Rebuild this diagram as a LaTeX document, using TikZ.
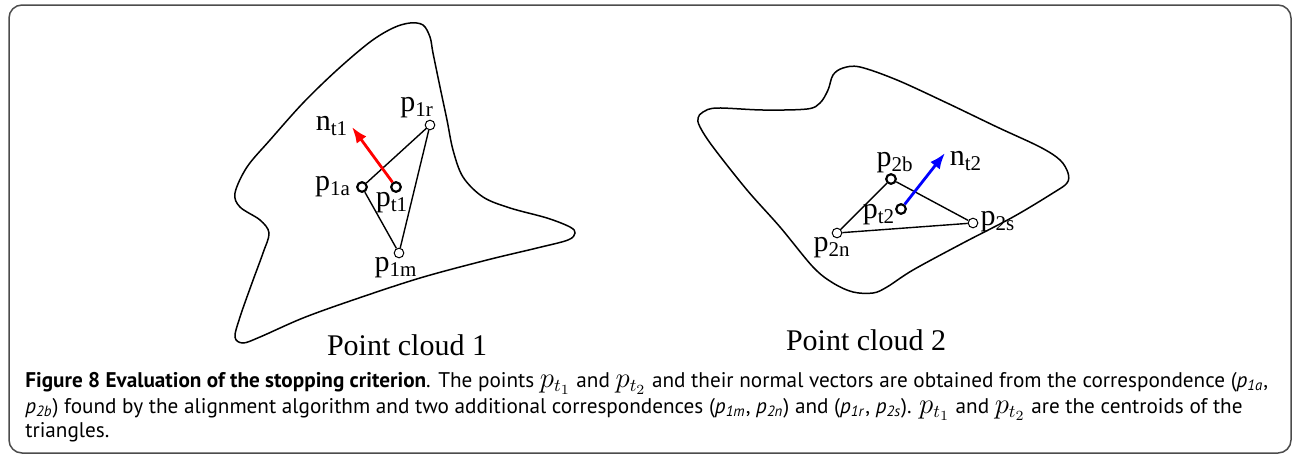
\documentclass[tikz,border=0pt]{standalone}
\usepackage{fontspec}
\setmainfont{Liberation Serif}
\newfontfamily\capfont{PT Sans}
\usetikzlibrary{arrows.meta}

\newcommand{\pcap}[1]{\textit{p}\textsubscript{\textit{#1}}}
\newcommand{\pmat}[1]{{\fontsize{13.5}{13.5}\selectfont$\smash{p_{t_{#1}}}$}}

\tikzset{
    nuvola/.style={line width=0.75pt},
    lato/.style={line width=0.7pt},
    punto/.style={circle, draw, fill=white, inner sep=0pt, minimum size=4.8pt, line width=0.5pt},
    puntob/.style={punto, line width=1.1pt},
    etic/.style={font=\fontsize{15}{15}\selectfont, inner sep=0pt},
    normale/.style={-{Latex[length=8pt,width=6pt]}, line width=1.4pt},
    didasc/.style={font=\capfont\fontsize{10.6}{12}\selectfont, anchor=base west, inner sep=0pt},
}

\begin{document}
\begin{tikzpicture}[x=0.5pt, y=-0.5pt]
    \useasboundingbox (0,0) rectangle (1293,456);

    % Cornice
    \draw[rounded corners=6.5pt, line width=0.75pt, black!70] (9,5) rectangle (1291,453);

    % Nuvola 1
    \draw[nuvola] plot[smooth cycle, tension=0.55] coordinates {
        (235,193) (247,167) (270,140) (303,103) (337,70) (370,42) (393,28)
        (410,23) (423,25) (430,37) (433,53) (440,87) (447,120) (453,150)
        (463,177) (483,197) (510,208) (547,218) (570,227) (575,233) (568,240)
        (537,248) (487,260) (420,278) (353,300) (303,318) (260,337) (243,343)
        (235,337) (240,317) (252,283) (263,253) (269,233) (260,220) (240,207)};

    % Nuvola 2
    \draw[nuvola] plot[smooth cycle, tension=0.55] coordinates {
        (698,118) (703,112) (717,108) (763,110) (807,109) (820,103) (828,90)
        (833,75) (843,68) (860,67) (897,80) (947,103) (997,127) (1040,147)
        (1060,160) (1068,173) (1067,183) (1053,193) (1013,217) (963,243)
        (913,270) (887,287) (873,293) (853,292) (833,283) (813,267) (780,227)
        (747,190) (713,147) (700,127)};

    % Triangolo 1
    \node[punto]  (p1r) at (430,125) {};
    \node[puntob] (p1a) at (362,187) {};
    \node[punto]  (p1m) at (399,253) {};
    \node[puntob] (pt1) at (396,187) {};
    \draw[lato] (p1a) -- (p1r) -- (p1m) -- (p1a);
    \coordinate (nt1) at (352,127);
    \draw[normale, red] (pt1) -- (nt1);

    \node[etic] (l1r) at (417,108) {p\textsubscript{1r}};
    \node[etic] (ln1) at (332,126) {n\textsubscript{t1}};
    \node[etic] (l1a) at (333,187) {p\textsubscript{1a}};
    \node[etic] (lt1) at (392,203) {p\textsubscript{t1}};
    \node[etic] (l1m) at (396,268) {p\textsubscript{1m}};

    % Triangolo 2
    \node[puntob] (p2b) at (891,179) {};
    \node[punto]  (p2n) at (837,233) {};
    \node[punto]  (p2s) at (973,223) {};
    \node[puntob] (pt2) at (901,209) {};
    \draw[lato] (p2n) -- (p2b) -- (p2s) -- (p2n);
    \coordinate (nt2) at (945,153);
    \draw[normale, blue] (pt2) -- (nt2);

    \node[etic] (l2b) at (895,163) {p\textsubscript{2b}};
    \node[etic] (ln2) at (966,161) {n\textsubscript{t2}};
    \node[etic] (lt2) at (879,215) {p\textsubscript{t2}};
    \node[etic] (l2s) at (998,222) {p\textsubscript{2s}};
    \node[etic] (l2n) at (832,248) {p\textsubscript{2n}};

    % Titoli
    \node[etic, anchor=base] (tit1) at (407,355) {Point cloud 1};
    \node[etic, anchor=base] (tit2) at (866,350) {Point cloud 2};

    % Didascalia
    \node[didasc] (cap1) at (25,387) {\textbf{Figure 8 Evaluation of the stopping criterion}. The points \pmat{1} and \pmat{2} and their normal vectors are obtained from the correspondence (\pcap{1a},};
    \node[didasc] (cap2) at (25,413) {\pcap{2b}) found by the alignment algorithm and two additional correspondences (\pcap{1m}, \pcap{2n}) and (\pcap{1r}, \pcap{2s}). \pmat{1} and \pmat{2} are the centroids of the};
    \node[didasc] (cap3) at (25,437) {triangles.};
\end{tikzpicture}
\end{document}
